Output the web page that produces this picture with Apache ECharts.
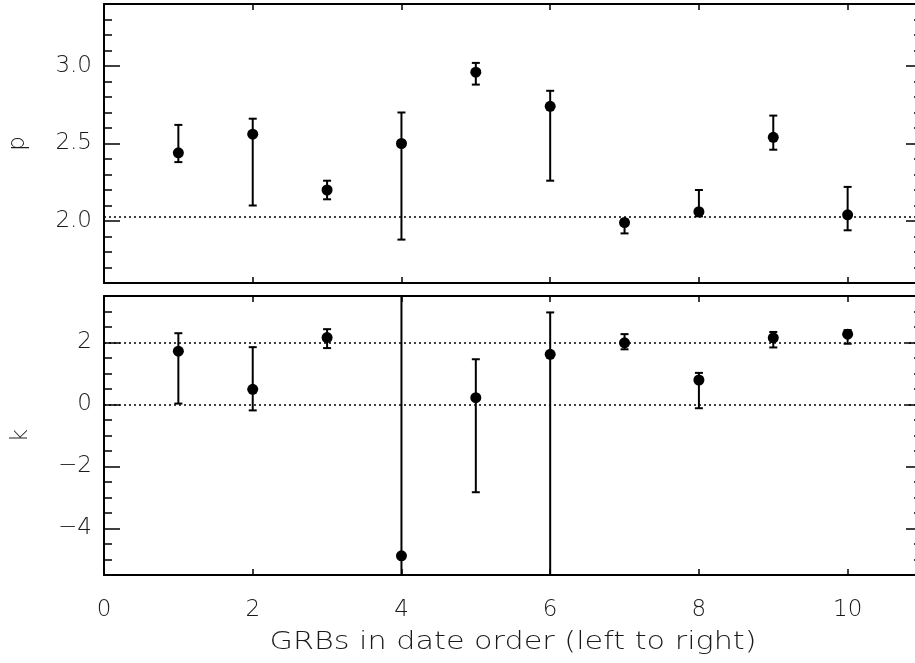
<!DOCTYPE html>
<html>
<head>
<meta charset="utf-8">
<script src="https://cdn.jsdelivr.net/npm/echarts@6/dist/echarts.min.js"></script>
<style>
  html, body { margin: 0; padding: 0; background: #fff; }
  #chart { width: 915px; height: 663px; }
</style>
</head>
<body>
<div id="chart"></div>
<script>
// GRB sequence number (date order)
const grbIndex = [1, 2, 3, 4, 5, 6, 7, 8, 9, 10];

// electron index p with upper / lower error limits
const pValue = [2.44, 2.56, 2.20, 2.50, 2.96, 2.74, 1.99, 2.06, 2.54, 2.04];
const pUpper = [2.62, 2.66, 2.26, 2.70, 3.02, 2.84, 2.01, 2.20, 2.68, 2.22];
const pLower = [2.38, 2.10, 2.14, 1.88, 2.88, 2.26, 1.92, 2.03, 2.46, 1.94];

// density profile index k with upper / lower error limits
const kValue = [1.72, 0.49, 2.16, -4.88, 0.22, 1.62, 1.99, 0.79, 2.15, 2.27];
const kUpper = [2.30, 1.85, 2.43, 4.20, 1.46, 2.97, 2.27, 1.02, 2.34, 2.40];
const kLower = [0.03, -0.19, 1.82, -6.20, -2.83, -6.20, 1.78, -0.12, 1.84, 1.96];

// reference levels
const pRef = 2.03;
const kRefs = [0, 2];

// tick positions
const xTicks = [0, 2, 4, 6, 8, 10];
const pMajorTicks = [2.0, 2.5, 3.0];
const pMinorTicks = [1.7, 1.8, 1.9, 2.1, 2.2, 2.3, 2.4, 2.6, 2.7, 2.8, 2.9, 3.1, 3.2, 3.3];
const kMajorTicks = [-4, -2, 0, 2];
const kMinorTicks = [-5, -4.5, -3.5, -3, -2.5, -1.5, -1, -0.5, 0.5, 1, 1.5, 2.5, 3];

const xTitle = 'GRBs in date order (left to right)';

const FONT = 'DejaVu Sans';
const TEXT_COLOR = '#1a1a1a';
const FONT_SIZE = 23;

const chart = echarts.init(document.getElementById('chart'), null, { renderer: 'canvas' });

const PLOT_LEFT = 104, PLOT_WIDTH = 818, PANEL_H = 279;
const TOP_P = 4, TOP_K = 296;

function grid(top) {
  return { left: PLOT_LEFT, top: top, width: PLOT_WIDTH, height: PANEL_H,
           outerBoundsMode: 'none', containLabel: false, show: false };
}

const frameLine = { show: true, onZero: false, lineStyle: { color: '#000', width: 2 } };

function xAxisFrame(gridIndex, position, showLabels) {
  return {
    type: 'value', gridIndex, position, min: 0, max: 11,
    axisLine: frameLine,
    axisTick: { show: true, inside: true, length: 6, customValues: xTicks,
                lineStyle: { color: '#000', width: 1.5 } },
    axisLabel: showLabels ? {
      show: true, customValues: xTicks, margin: 24,
      fontFamily: FONT, fontSize: FONT_SIZE, fontWeight: 200, color: TEXT_COLOR
    } : { show: false },
    splitLine: { show: false }
  };
}

function xAxisHidden(gridIndex) {
  return { type: 'value', gridIndex, min: 0, max: 11, show: false };
}

function yAxisFrame(gridIndex, position, min, max, ticks, len, showLine, labelOpts, nameOpts) {
  const ax = {
    type: 'value', gridIndex, position, min, max,
    axisLine: showLine ? frameLine : { show: false },
    axisTick: { show: true, inside: true, length: len, customValues: ticks,
                lineStyle: { color: '#000', width: 1.5 } },
    axisLabel: labelOpts || { show: false },
    splitLine: { show: false }
  };
  if (nameOpts) Object.assign(ax, nameOpts);
  return ax;
}

function numLabel(values, digits) {
  return {
    show: true, customValues: values, margin: 12,
    fontFamily: FONT, fontSize: FONT_SIZE, fontWeight: 200, color: TEXT_COLOR,
    formatter: v => {
      const s = Math.abs(v).toFixed(digits);
      return v < 0 ? '\u2212' + s : s;
    }
  };
}

function axisName(text, gap) {
  return {
    name: text, nameLocation: 'middle', nameRotate: 90, nameGap: gap,
    nameTextStyle: { fontFamily: FONT, fontSize: FONT_SIZE, fontWeight: 200, color: TEXT_COLOR }
  };
}

function errorBars(xIdx, yIdx, upper, lower) {
  return {
    type: 'custom', xAxisIndex: xIdx, yAxisIndex: yIdx, clip: true, z: 2,
    silent: true, animation: false,
    data: grbIndex.map((x, i) => [x, upper[i], lower[i]]),
    encode: { x: 0, y: [1, 2] },
    renderItem: (params, api) => {
      const x = api.value(0);
      const hi = api.coord([x, api.value(1)]);
      const lo = api.coord([x, api.value(2)]);
      const cap = 4;
      const style = { stroke: '#000', lineWidth: 2 };
      return {
        type: 'group',
        children: [
          { type: 'line', shape: { x1: hi[0], y1: hi[1], x2: lo[0], y2: lo[1] }, style },
          { type: 'line', shape: { x1: hi[0] - cap, y1: hi[1], x2: hi[0] + cap, y2: hi[1] }, style },
          { type: 'line', shape: { x1: lo[0] - cap, y1: lo[1], x2: lo[0] + cap, y2: lo[1] }, style }
        ]
      };
    }
  };
}

function points(xIdx, yIdx, values, refs) {
  return {
    type: 'scatter', xAxisIndex: xIdx, yAxisIndex: yIdx, z: 3,
    symbol: 'circle', symbolSize: 11,
    itemStyle: { color: '#000', opacity: 1 },
    silent: true, animation: false,
    data: grbIndex.map((x, i) => [x, values[i]]),
    markLine: {
      silent: true, symbol: 'none', animation: false,
      label: { show: false },
      lineStyle: { color: '#000', width: 1.6, type: [2, 3] },
      data: refs.map(v => ({ yAxis: v }))
    }
  };
}

const option = {
  backgroundColor: '#fff',
  animation: false,
  grid: [grid(TOP_P), grid(TOP_P), grid(TOP_K), grid(TOP_K)],
  xAxis: [
    xAxisFrame(0, 'bottom', false),
    xAxisFrame(0, 'top', false),
    xAxisHidden(1),
    xAxisFrame(2, 'bottom', true),
    xAxisFrame(2, 'top', false),
    xAxisHidden(3)
  ],
  yAxis: [
    yAxisFrame(0, 'left', 1.6, 3.4, pMajorTicks, 16, true, numLabel(pMajorTicks, 1), axisName('p', 74)),
    yAxisFrame(0, 'right', 1.6, 3.4, pMajorTicks, 16, true, null, null),
    yAxisFrame(1, 'left', 1.6, 3.4, pMinorTicks, 8, false, null, null),
    yAxisFrame(1, 'right', 1.6, 3.4, pMinorTicks, 8, false, null, null),
    yAxisFrame(2, 'left', -5.5, 3.5, kMajorTicks, 16, true, numLabel(kMajorTicks, 0), axisName('k', 71)),
    yAxisFrame(2, 'right', -5.5, 3.5, kMajorTicks, 16, true, null, null),
    yAxisFrame(3, 'left', -5.5, 3.5, kMinorTicks, 8, false, null, null),
    yAxisFrame(3, 'right', -5.5, 3.5, kMinorTicks, 8, false, null, null)
  ],
  series: [
    errorBars(0, 0, pUpper, pLower),
    points(0, 0, pValue, [pRef]),
    errorBars(3, 4, kUpper, kLower),
    points(3, 4, kValue, kRefs)
  ],
  graphic: [{
    type: 'text',
    x: PLOT_LEFT + PLOT_WIDTH / 2,
    y: 643,
    scaleX: 1.26,
    silent: true,
    style: {
      text: xTitle,
      fontFamily: FONT, fontSize: 24, fontWeight: 200,
      fill: TEXT_COLOR,
      align: 'center', verticalAlign: 'middle'
    }
  }]
};

chart.setOption(option);
</script>
</body>
</html>
